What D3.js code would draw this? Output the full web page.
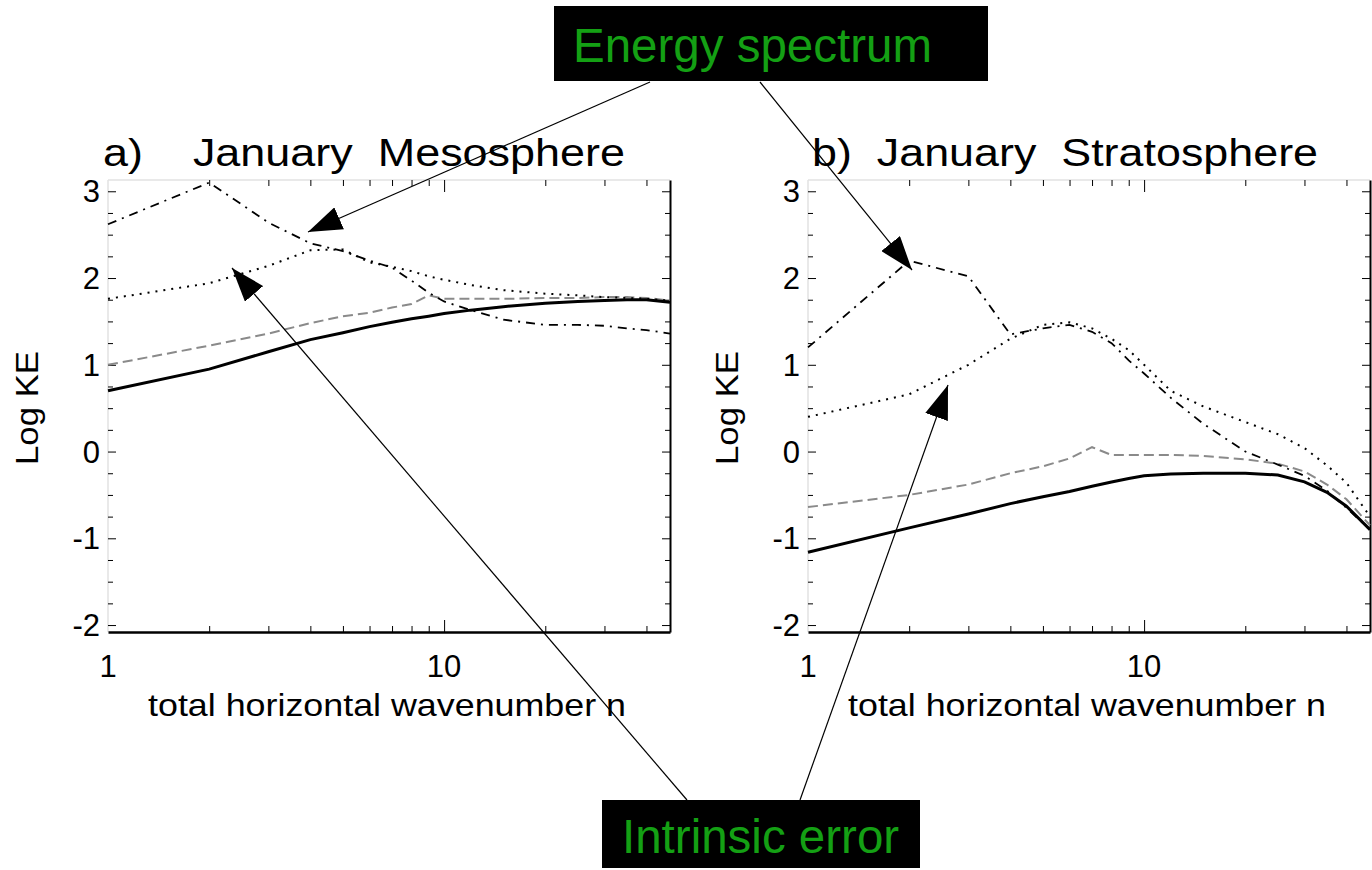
<!DOCTYPE html>
<html>
<head>
<meta charset="utf-8">
<script src="https://cdn.jsdelivr.net/npm/d3@7"></script>
<style>
body{margin:0;background:#fff;}
svg text{font-family:"Liberation Sans",Arial,Helvetica,sans-serif;}
</style>
</head>
<body>
<script>
// wavenumbers
var wavenumbers = [1,2,3,4,5,6,7,8,9,10,12,15,20,25,30,35,40,47];

// a) January Mesosphere
var mesoSolid   = [0.70,0.95,1.15,1.29,1.37,1.44,1.49,1.53,1.56,1.59,1.63,1.67,1.71,1.73,1.74,1.75,1.75,1.72];
var mesoGray    = [1.00,1.22,1.36,1.48,1.56,1.60,1.66,1.70,1.80,1.76,1.76,1.76,1.77,1.77,1.78,1.78,1.77,1.74];
var mesoDotted  = [1.76,1.94,2.14,2.32,2.33,2.18,2.13,2.08,2.02,1.98,1.92,1.86,1.82,1.80,1.78,1.77,1.76,1.74];
var mesoDashDot = [2.62,3.10,2.64,2.40,2.31,2.20,2.12,1.97,1.83,1.73,1.63,1.52,1.46,1.46,1.45,1.42,1.40,1.36];

// b) January Stratosphere
var stratSolid   = [-1.16,-0.88,-0.72,-0.60,-0.52,-0.46,-0.40,-0.35,-0.31,-0.28,-0.26,-0.25,-0.25,-0.27,-0.35,-0.47,-0.63,-0.90];
var stratGray    = [-0.64,-0.50,-0.38,-0.25,-0.17,-0.08,0.05,-0.04,-0.04,-0.04,-0.04,-0.05,-0.09,-0.14,-0.23,-0.38,-0.55,-0.85];
var stratDotted  = [0.40,0.66,1.00,1.30,1.46,1.49,1.42,1.30,1.17,1.00,0.70,0.52,0.34,0.20,0.04,-0.16,-0.36,-0.75];
var stratDashDot = [1.20,2.20,2.02,1.35,1.42,1.46,1.38,1.25,1.05,0.90,0.62,0.32,0.00,-0.15,-0.28,-0.45,-0.65,-0.90];

var yTicks = [-2,-1,0,1,2,3];
var xTickLabels = [1,10];
var xMinor = [2,3,4,5,6,7,8,9,20,30,40];

var svg = d3.select("body").append("svg").attr("width",1372).attr("height",870);

var defs = svg.append("defs");
defs.append("marker").attr("id","head")
	.attr("viewBox","0 -12 34 24").attr("refX",34).attr("refY",0)
	.attr("markerWidth",34).attr("markerHeight",24)
	.attr("markerUnits","userSpaceOnUse").attr("orient","auto")
	.append("path").attr("d","M0,-12L34,0L0,12Z").attr("fill","#000");

var styles = {
	solid:   {stroke:"#000", width:3, dash:null},
	gray:    {stroke:"#8a8a8a", width:2, dash:"10,5"},
	dotted:  {stroke:"#000", width:2, dash:"2,6"},
	dashdot: {stroke:"#000", width:1.8, dash:"9,6,2,6"}
};

function draw_panel(cfg){
	var top = 180, bottom = 632;
	var x = d3.scaleLog().domain([1,47]).range([cfg.left, cfg.right]);
	var y = d3.scaleLinear().domain([-2.08,3.13]).range([bottom, top]);
	var g = svg.append("g");

	// faint left and top frame
	g.append("line").attr("x1",cfg.left).attr("x2",cfg.left).attr("y1",top).attr("y2",bottom)
		.attr("stroke","#e2e2e2").attr("stroke-width",1.5);
	g.append("line").attr("x1",cfg.left).attr("x2",cfg.right).attr("y1",top).attr("y2",top)
		.attr("stroke","#e2e2e2").attr("stroke-width",1.5);

	var yMinor = d3.range(-2,3.01,0.25).filter(v=>Math.abs(v-Math.round(v))>0.01);

	// left ticks (inward)
	g.append("g").attr("transform","translate("+cfg.left+",0)")
		.call(d3.axisRight(y).tickValues(yTicks).tickSize(8).tickFormat(""))
		.call(a=>a.select(".domain").remove());
	g.append("g").attr("transform","translate("+cfg.left+",0)")
		.call(d3.axisRight(y).tickValues(yMinor).tickSize(5).tickFormat(""))
		.call(a=>a.select(".domain").remove());
	// right axis
	g.append("g").attr("transform","translate("+cfg.right+",0)")
		.call(d3.axisLeft(y).tickValues(yTicks).tickSize(8).tickSizeOuter(0).tickFormat(""))
		.call(a=>a.select(".domain").attr("stroke-width",2));
	g.append("g").attr("transform","translate("+cfg.right+",0)")
		.call(d3.axisLeft(y).tickValues(yMinor).tickSize(5).tickFormat(""))
		.call(a=>a.select(".domain").remove());
	// bottom axis
	g.append("g").attr("transform","translate(0,"+bottom+")")
		.call(d3.axisTop(x).tickValues([10]).tickSize(12).tickSizeOuter(0).tickFormat(""))
		.call(a=>a.select(".domain").attr("stroke-width",2.5));
	g.append("g").attr("transform","translate(0,"+bottom+")")
		.call(d3.axisTop(x).tickValues(xMinor).tickSize(6).tickFormat(""))
		.call(a=>a.select(".domain").remove());
	// top ticks
	g.append("g").attr("transform","translate(0,"+top+")")
		.call(d3.axisBottom(x).tickValues([10]).tickSize(12).tickFormat(""))
		.call(a=>a.select(".domain").remove());
	g.append("g").attr("transform","translate(0,"+top+")")
		.call(d3.axisBottom(x).tickValues(xMinor).tickSize(6).tickFormat(""))
		.call(a=>a.select(".domain").remove());

	// tick labels
	g.selectAll(".ylab").data(yTicks).enter().append("text").attr("class","ylab")
		.attr("x",cfg.left-8).attr("y",d=>y(d)).attr("dy","0.36em")
		.attr("text-anchor","end").attr("font-size",31).text(d=>d);
	g.selectAll(".xlab").data(xTickLabels).enter().append("text").attr("class","xlab")
		.attr("x",d=>x(d)).attr("y",677)
		.attr("text-anchor","middle").attr("font-size",31).text(d=>d);

	// titles
	g.append("text").attr("x",(cfg.left+cfg.right)/2 - 2).attr("y",716)
		.attr("text-anchor","middle").attr("font-size",32)
		.attr("textLength",478).attr("lengthAdjust","spacingAndGlyphs")
		.text("total horizontal wavenumber n");
	g.append("text").attr("transform","translate("+(cfg.left-70)+",408) rotate(-90)")
		.attr("text-anchor","middle").attr("font-size",32)
		.attr("textLength",114).attr("lengthAdjust","spacingAndGlyphs")
		.text("Log KE");
	g.append("text").attr("x",cfg.titleX).attr("y",166).attr("font-size",38)
		.attr("textLength",cfg.titleW).attr("lengthAdjust","spacingAndGlyphs")
		.attr("xml:space","preserve")
		.text(cfg.title);

	var line = d3.line().x((d,i)=>x(wavenumbers[i])).y(d=>y(d));
	cfg.series.forEach(function(s){
		var st = styles[s.style];
		g.append("path").datum(s.values)
			.attr("d",line)
			.attr("fill","none")
			.attr("stroke",st.stroke)
			.attr("stroke-width",st.width)
			.attr("stroke-dasharray",st.dash);
	});
}

draw_panel({left:108, right:670, title:"a)    January  Mesosphere", titleX:103, titleW:522,
	series:[{values:mesoGray,style:"gray"},{values:mesoDotted,style:"dotted"},
		{values:mesoDashDot,style:"dashdot"},{values:mesoSolid,style:"solid"}]});
draw_panel({left:808, right:1370, title:"b)  January  Stratosphere", titleX:812, titleW:506,
	series:[{values:stratGray,style:"gray"},{values:stratDotted,style:"dotted"},
		{values:stratDashDot,style:"dashdot"},{values:stratSolid,style:"solid"}]});

// annotation arrows
var arrows = [
	[650,82,308,232],
	[760,82,912,270],
	[687,800,232,268],
	[800,800,948,385]
];
svg.selectAll(".arrow").data(arrows).enter().append("line").attr("class","arrow")
	.attr("x1",d=>d[0]).attr("y1",d=>d[1]).attr("x2",d=>d[2]).attr("y2",d=>d[3])
	.attr("stroke","#000").attr("stroke-width",1.2)
	.attr("marker-end","url(#head)");

// annotation boxes
var boxes = [
	{text:"Energy spectrum", x:554, y:6, w:434, h:75, tx:573, ty:62},
	{text:"Intrinsic error", x:602, y:800, w:318, h:68, tx:622, ty:853}
];
boxes.forEach(function(b){
	svg.append("rect").attr("x",b.x).attr("y",b.y).attr("width",b.w).attr("height",b.h).attr("fill","#000");
	svg.append("text").attr("x",b.tx).attr("y",b.ty).attr("font-size",47.5)
		.attr("fill","#14a014").text(b.text);
});
</script>
</body>
</html>
